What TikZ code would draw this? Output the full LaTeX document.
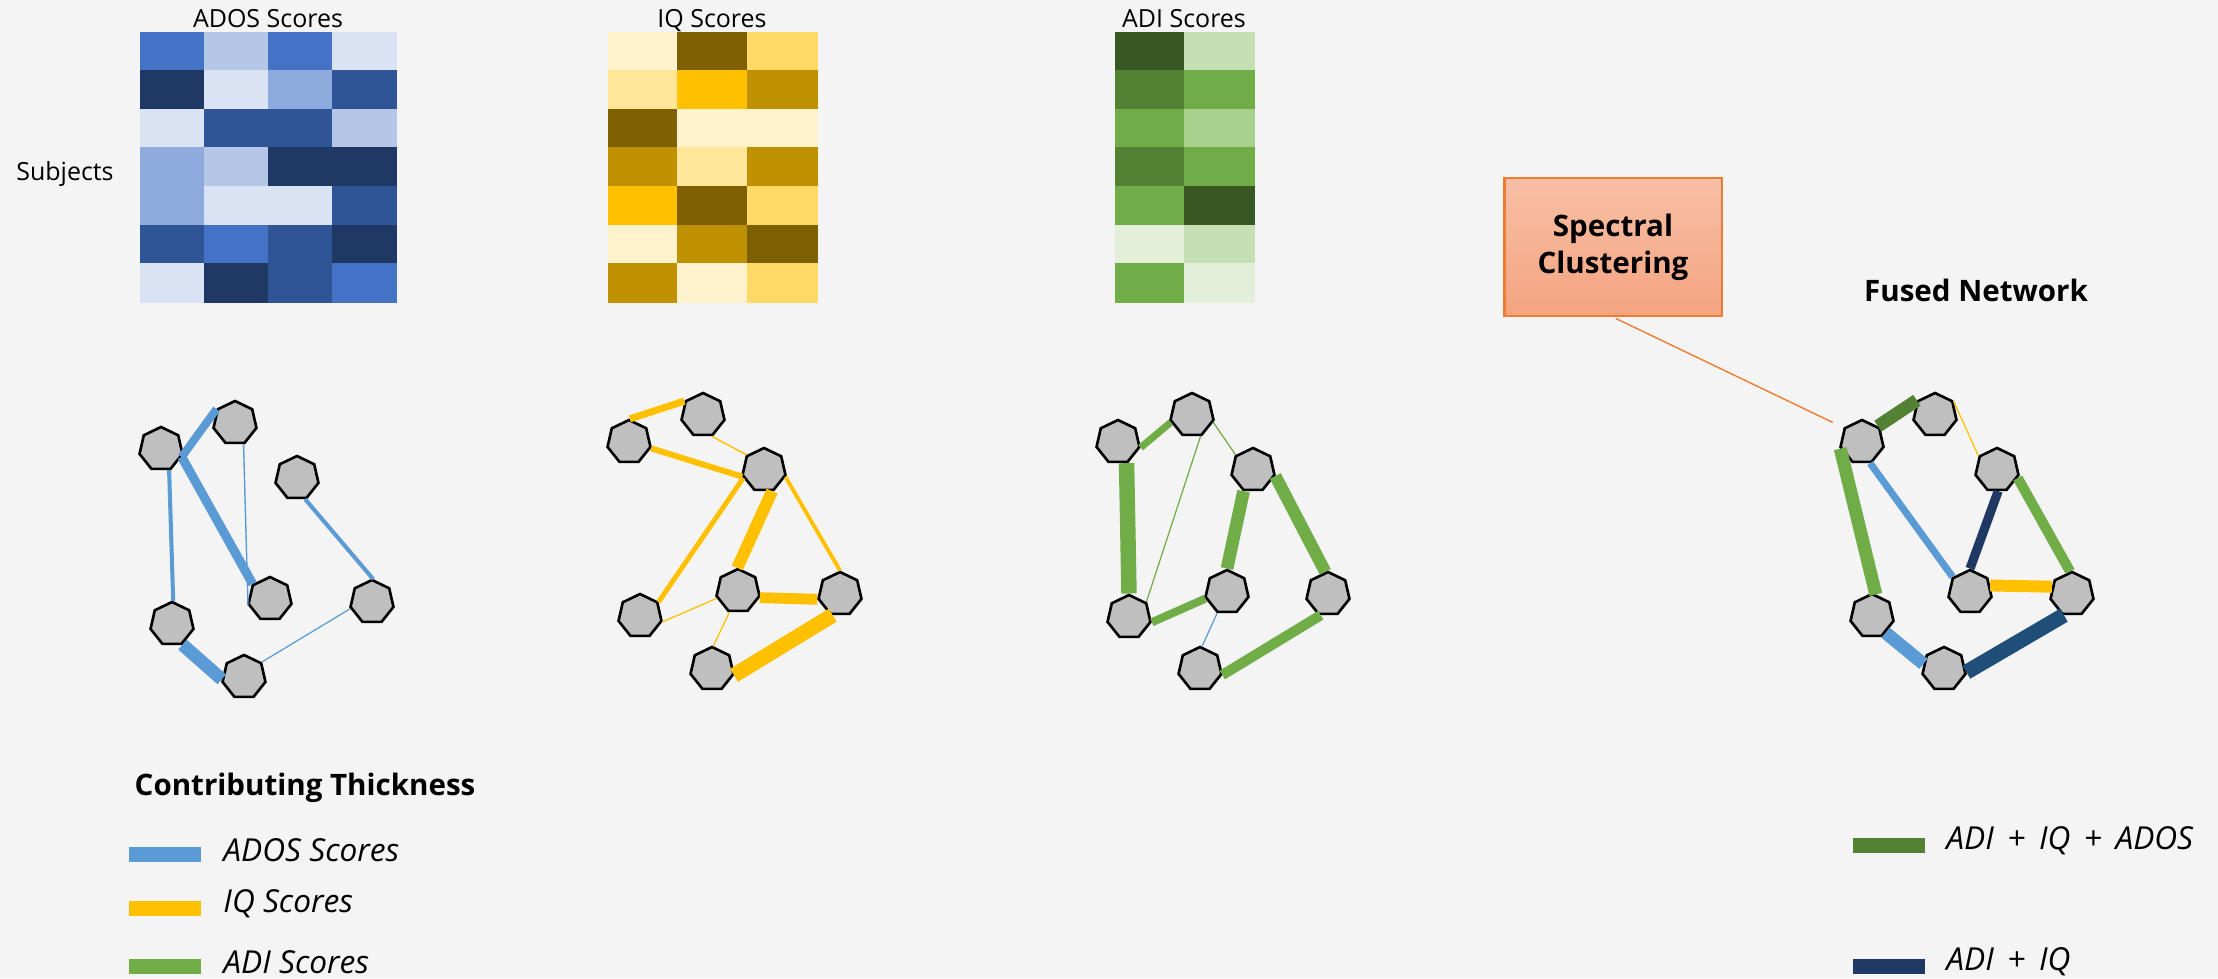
\documentclass[tikz,border=0pt]{standalone}
\usepackage{fontspec}
\setmainfont{Open Sans}
\usetikzlibrary{positioning,shapes.geometric}
% heat map shades, light to dark
\definecolor{ados1}{HTML}{DAE3F3}
\definecolor{ados2}{HTML}{B4C7E7}
\definecolor{ados3}{HTML}{8FAADC}
\definecolor{ados4}{HTML}{4472C4}
\definecolor{ados5}{HTML}{2F5597}
\definecolor{ados6}{HTML}{203864}
\definecolor{iq1}{HTML}{FFF2CC}
\definecolor{iq2}{HTML}{FFE699}
\definecolor{iq3}{HTML}{FFD966}
\definecolor{iq4}{HTML}{FFC000}
\definecolor{iq5}{HTML}{BF9000}
\definecolor{iq6}{HTML}{7F6000}
\definecolor{adi1}{HTML}{E2F0D9}
\definecolor{adi2}{HTML}{C5E0B4}
\definecolor{adi3}{HTML}{A9D18E}
\definecolor{adi4}{HTML}{70AD47}
\definecolor{adi5}{HTML}{548235}
\definecolor{adi6}{HTML}{385723}
% network colours
\definecolor{bgGray}{HTML}{F4F4F4}
\definecolor{nodeGray}{HTML}{BFBFBF}
\definecolor{adosLine}{HTML}{5B9BD5}
\definecolor{iqLine}{HTML}{FFC000}
\definecolor{adiLine}{HTML}{70AD47}
\definecolor{tripleGreen}{HTML}{548235}
\definecolor{pairNavy}{HTML}{203864}
\definecolor{pairBlue}{HTML}{1F4E79}
\definecolor{clusterOrange}{HTML}{ED7D31}
\definecolor{clusterTop}{HTML}{F8BFA6}
\definecolor{clusterBottom}{HTML}{F4A47F}
\tikzset{
  score title/.style={font=\fontsize{7.1}{8.5}\selectfont,inner sep=0pt,anchor=base},
  bold label/.style={font=\bfseries\fontsize{8.4}{10.5}\selectfont,inner sep=0pt},
  legend label/.style={font=\itshape\fontsize{9}{10.5}\selectfont,inner sep=0pt,yshift=0.04cm},
  subject node/.style={regular polygon,regular polygon sides=7,minimum size=0.44cm,inner sep=0pt,fill=nodeGray,draw=black,line width=0.75pt},
  ados edge/.style={draw=adosLine,line width=#1},
  iq edge/.style={draw=iqLine,line width=#1},
  adi edge/.style={draw=adiLine,line width=#1},
  triple edge/.style={draw=tripleGreen,line width=#1},
  pair edge/.style={draw=pairNavy,line width=#1},
  swatch/.style={minimum width=0.72cm,minimum height=0.15cm,inner sep=0pt},
  cluster box/.style={draw=clusterOrange,line width=0.6pt,top color=clusterTop,bottom color=clusterBottom,minimum width=2.17cm,minimum height=1.38cm,align=center,font=\bfseries\fontsize{8.4}{10.5}\selectfont},
  cluster link/.style={draw=clusterOrange,line width=0.4pt},
}
% #1 left x, #2 cell width, #3 columns, #4 colour prefix, #5 shades row by row
\newcommand{\drawHeatMap}[5]{
\foreach \hmShade [count=\k from 0] in {#5} {
  \pgfmathtruncatemacro{\hmCol}{mod(\k,#3)}
  \pgfmathtruncatemacro{\hmRow}{\k/#3}
  \filldraw[#4\hmShade,line width=0.2pt] ({#1+\hmCol*#2},{32+\hmRow*38.57}) rectangle ++(#2,38.57);
}
}
\begin{document}
\begin{tikzpicture}[x=0.01cm,y=-0.01cm]
\fill[bgGray] (0,0) rectangle (2218,978);
\useasboundingbox (0,0) rectangle (2218,978);
% score matrices
\drawHeatMap{140}{64}{4}{ados}{4,2,4,1, 6,1,3,5, 1,5,5,2, 3,2,6,6, 3,1,1,5, 5,4,5,6, 1,6,5,4}
\drawHeatMap{608}{69.67}{3}{iq}{1,6,3, 2,4,5, 6,1,1, 5,2,5, 4,6,3, 1,5,6, 5,1,3}
\drawHeatMap{1115}{69.5}{2}{adi}{6,2, 5,4, 4,3, 5,4, 4,6, 1,2, 4,1}
\node[score title] (adosTitle) at (268,27) {ADOS Scores};
\node[score title] (iqTitle) at (712,27) {IQ Scores};
\node[score title] (adiTitle) at (1184,27) {ADI Scores};
\node[score title] (subjects) at (65,180) {Subjects};

% ADOS network
\node[subject node] (a1) at (161,449) {};
\node[subject node] (a2) at (235,423) {};
\node[subject node] (a3) at (297,478) {};
\node[subject node] (a4) at (172,624) {};
\node[subject node] (a5) at (270,599) {};
\node[subject node] (a6) at (372,602) {};
\node[subject node] (a7) at (244,677) {};
\draw[ados edge=2.3pt] (a1.-21) -- (a2.143);
\draw[ados edge=2.6pt] (a1.-21) -- (a5.139);
\draw[ados edge=1.15pt] (a1.-69) -- (a4.87);
\draw[ados edge=0.4pt] (a2.-68) -- (a5.196);
\draw[ados edge=1.15pt] (a3.-69) -- (a6.87);
\draw[ados edge=0.35pt] (a6.197) -- (a7.40);
\draw[ados edge=3.7pt] (a4.-63) -- (a7.186);

% IQ network
\node[subject node] (q1) at (629,442) {};
\node[subject node] (q2) at (703,415) {};
\node[subject node] (q3) at (764,470) {};
\node[subject node] (q4) at (640,616) {};
\node[subject node] (q5) at (738,591) {};
\node[subject node] (q6) at (840,594) {};
\node[subject node] (q7) at (712,669) {};
\draw[iq edge=2pt] (q1.88) -- (q2.143);
\draw[iq edge=1.7pt] (q1.-16) -- (q3.197);
\draw[iq edge=0.4pt] (q2.-68) -- (q3.139);
\draw[iq edge=1.4pt] (q3.201) -- (q4.37);
\draw[iq edge=3.4pt] (q3.-69) -- (q5.92);
\draw[iq edge=1.1pt] (q3.-18) -- (q6.90);
\draw[iq edge=0.35pt] (q4.-15) -- (q5.199);
\draw[iq edge=3.1pt] (q5.-17) -- (q6.193);
\draw[iq edge=0.35pt] (q5.-112) -- (q7.87);
\draw[iq edge=4.3pt] (q7.-16) -- (q6.-109);

% ADI network
\node[subject node] (d1) at (1118,442) {};
\node[subject node] (d2) at (1192,415) {};
\node[subject node] (d3) at (1253,470) {};
\node[subject node] (d4) at (1129,617) {};
\node[subject node] (d5) at (1227,592) {};
\node[subject node] (d6) at (1328,594) {};
\node[subject node] (d7) at (1200,669) {};
\draw[adi edge=2pt] (d1.-14) -- (d2.199);
\draw[adi edge=4.4pt] (d1.-68) -- (d4.90);
\draw[adi edge=0.35pt] (d2.-68) -- (d4.41);
\draw[adi edge=0.35pt] (d2.-19) -- (d3.139);
\draw[adi edge=3.6pt] (d3.-114) -- (d5.90);
\draw[adi edge=3.5pt] (d3.-15) -- (d6.97);
\draw[adi edge=2.3pt] (d4.-13) -- (d5.197);
\draw[ados edge=0.35pt] (d5.-115) -- (d7.85);
\draw[adi edge=2.9pt] (d7.-15) -- (d6.-109);

% fused network
\node[bold label,anchor=base] (fusedTitle) at (1976,301) {Fused Network};
\node[subject node] (f1) at (1862,442) {};
\node[subject node] (f2) at (1935,415) {};
\node[subject node] (f3) at (1997,470) {};
\node[subject node] (f4) at (1872,616) {};
\node[subject node] (f5) at (1970,592) {};
\node[subject node] (f6) at (2072,594) {};
\node[subject node] (f7) at (1944,669) {};
\draw[triple edge=3.7pt] (f1.45) -- (f2.141);
\draw[iq edge=0.35pt] (f2.37) -- (f3.143);
\draw[adi edge=3.7pt] (f1.197) -- (f4.80);
\draw[ados edge=2pt] (f1.-69) -- (f5.139);
\draw[pair edge=2.6pt] (f3.-87) -- (f5.90);
\draw[adi edge=2.9pt] (f3.-21) -- (f6.95);
\draw[iq edge=3.4pt] (f5.18) -- (f6.160);
\draw[ados edge=3.7pt] (f4.-51) -- (f7.166);
\draw[pair edge=4.3pt,draw=pairBlue] (f7.-8) -- (f6.-111);

\node[cluster box] (spec) at (1613,247) {Spectral\\Clustering};
\draw[cluster link,shorten <=0.03cm,shorten >=0.12cm] (spec.south) -- (f1.142);

% legends
\node[bold label,anchor=base west] (legendTitle) at (134,795) {Contributing Thickness};
\node[swatch,fill=adosLine] (swAdos) at (165,854) {};
\node[legend label,right=0.21cm of swAdos] (lbAdos) {ADOS Scores};
\node[swatch,fill=iqLine] (swIq) at (165,908) {};
\node[legend label,right=0.21cm of swIq] (lbIq) {IQ Scores};
\node[swatch,fill=adiLine] (swAdi) at (165,966) {};
\node[legend label,right=0.21cm of swAdi] (lbAdi) {ADI Scores};
\node[swatch,fill=tripleGreen] (swTriple) at (1889,845) {};
\node[legend label,right=0.2cm of swTriple] (lbTriple) {ADI \,+\, IQ \,+\, ADOS};
\node[swatch,fill=pairNavy] (swPair) at (1889,966) {};
\node[legend label,right=0.2cm of swPair] (lbPair) {ADI \,+\, IQ};
\end{tikzpicture}
\end{document}
